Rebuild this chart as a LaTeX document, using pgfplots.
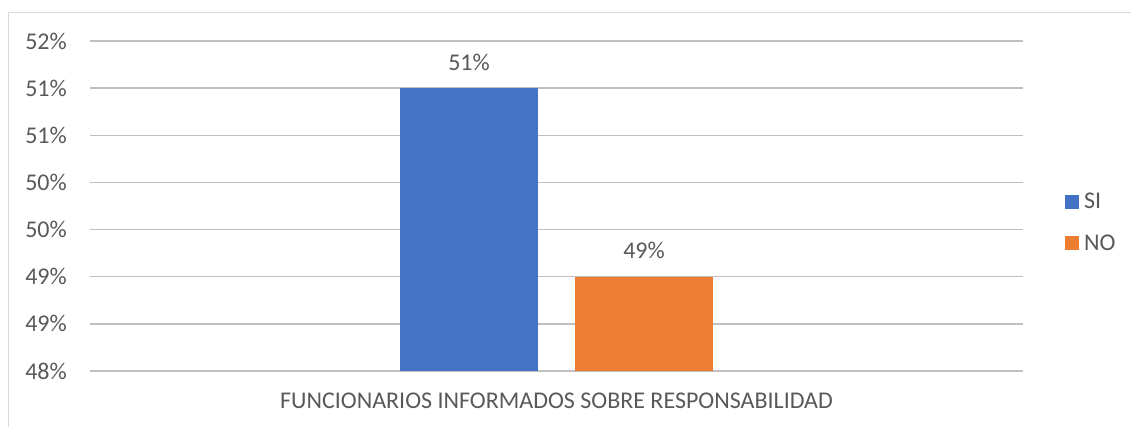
\documentclass[border=0pt]{standalone}
\usepackage{pgfplots}
\pgfplotsset{compat=1.18}
\usepackage{fontspec}
\setmainfont{Carlito}
\definecolor{txt}{HTML}{595959}
\definecolor{grid}{HTML}{D9D9D9}
\definecolor{siblue}{HTML}{4472C4}
\definecolor{noorange}{HTML}{ED7D31}
\begin{document}
\begin{tikzpicture}[x=1pt,y=1pt]
\useasboundingbox (0,0) rectangle (1131,427);
\draw[grid,line width=1.2pt] (8.5,0) -- (8.5,414.5) -- (1131,414.5);
\begin{axis}[
  at={(90pt,56pt)}, anchor=south west,
  scale only axis, width=933pt, height=330pt,
  xmin=-0.5, xmax=0.5, ymin=0.48, ymax=0.515,
  axis line style={draw=none},
  major tick length=0pt, tick style={draw=none},
  ytick={0.48,0.485,0.49,0.495,0.5,0.505,0.51,0.515},
  yticklabels={48\%,49\%,49\%,50\%,50\%,51\%,51\%,52\%},
  xtick={0}, xticklabels={FUNCIONARIOS INFORMADOS SOBRE RESPONSABILIDAD},
  ymajorgrids, xmajorgrids=false, grid style={grid,line width=1.5pt},
  tick label style={font=\fontsize{24}{28}\selectfont, text=txt},
  /pgf/number format/assume math mode=true,
  yticklabel style={anchor=east, inner sep=0pt, xshift=-23pt},
  xticklabel style={anchor=north, inner sep=0pt, yshift=-22pt},
  nodes near coords style={font=\fontsize{24}{28}\selectfont, text=txt, anchor=south, inner sep=0pt, yshift=17.5pt},
  point meta=explicit symbolic,
  legend style={draw=none, fill=none, at={(axis description cs:1.045,0.45)}, anchor=west,
    font=\fontsize{24}{28}\selectfont, text=txt, row sep=24pt, inner sep=0pt,
    nodes={inner sep=0pt}},
  legend cell align=left,
  clip=false,
]
\addplot[ybar, bar width=138pt, bar shift=0pt, fill=siblue, draw=none, nodes near coords,
  legend image code/.code={\fill[siblue] (0pt,-7pt) rectangle (14pt,7pt); \path (19pt,0pt);}]
  coordinates {(-0.09378,0.51) [51\%]};
\addlegendentry{SI}
\addplot[ybar, bar width=138pt, bar shift=0pt, fill=noorange, draw=none, nodes near coords,
  legend image code/.code={\fill[noorange] (0pt,-7pt) rectangle (14pt,7pt); \path (19pt,0pt);}]
  coordinates {(0.09378,0.49) [49\%]};
\addlegendentry{NO}
\end{axis}
\end{tikzpicture}
\end{document}
